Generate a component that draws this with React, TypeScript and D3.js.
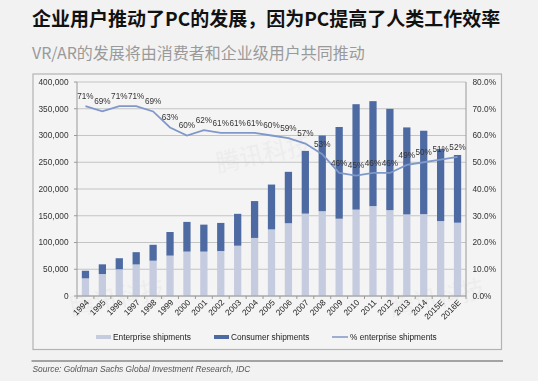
import React from "react";
import * as d3 from "d3";

const categories = ["1994","1995","1996","1997","1998","1999","2000","2001","2002","2003","2004","2005","2006","2007","2008","2009","2010","2011","2012","2013","2014","2015E","2016E"];
const enterprise = [33000, 41000, 50000, 59000, 66000, 75500, 83000, 83000, 84000, 94000, 108500, 124500, 136000, 154000, 158500, 144500, 161500, 168000, 160500, 152500, 153000, 140000, 137000];
const consumer = [14200, 18200, 20600, 22900, 29700, 44100, 55500, 50400, 52600, 59600, 68900, 83800, 96100, 117200, 141500, 171400, 197000, 196200, 189300, 162600, 155900, 135000, 126600];
const pctEnterprise = [71, 69, 71, 71, 69, 63, 60, 62, 61, 61, 61, 60, 59, 57, 53, 46, 45, 46, 46, 49, 50, 51, 52];
const leftTicks = [0, 50000, 100000, 150000, 200000, 250000, 300000, 350000, 400000];
const rightTicks = [0, 0.1, 0.2, 0.3, 0.4, 0.5, 0.6, 0.7, 0.8];
const legendLabels = ["Enterprise shipments", "Consumer shipments", "% enterprise shipments"];
const title = "企业用户推动了PC的发展，因为PC提高了人类工作效率";
const subtitle = "VR/AR的发展将由消费者和企业级用户共同推动";
const source = "Source: Goldman Sachs Global Investment Research, IDC";

const W = 538, H = 381;
const PL = 77, PR = 466, PT = 82, PB = 296;
const C_ENT = "#c6cce0";
const C_CON = "#4e6aa3";
const C_LINE = "#7f98c9";
const FONT = "'Liberation Sans', Arial, sans-serif";
const CJK = "'Noto Sans CJK SC', sans-serif";

export default function App() {
  const x = d3.scaleBand<string>().domain(categories).range([PL, PR]).paddingInner(0.57).paddingOuter(0.285);
  const y = d3.scaleLinear().domain([0, 400000]).range([PB, PT]);
  const y2 = d3.scaleLinear().domain([0, 0.8]).range([PB, PT]);
  const fmt = d3.format(",");
  const pfmt = d3.format(".1%");
  const bw = x.bandwidth();
  const cx = (c: string) => (x(c) as number) + bw / 2;
  const line = d3.line<number>().x((_, i) => cx(categories[i])).y((d) => y2(d / 100));
  const step = x.step();

  return (
    <svg width={W} height={H} style={{ position: "absolute", left: 0, top: 0, background: "#f2f2f2" }}>
      <rect x={0} y={0} width={W} height={H} fill="#f2f2f2" />
      <text x={32} y={26} fontFamily={CJK} fontSize={19} fontWeight="bold" fill="#111">{title}</text>
      <text x={32} y={59} fontFamily={CJK} fontSize={16} fill="#9a9a9a">{subtitle}</text>
      {/* box */}
      <rect x={33} y={74} width={468.5} height={275.5} fill="#f4f4f4" stroke="#b3b3b3" strokeWidth={1.2} />
      {/* watermarks */}
      <g fontFamily={CJK} fontSize={24} fill="#9a9a9a" opacity={0.08}>
        <text x={218} y={172} transform="rotate(-12 218 172)">腾讯科技</text>
        <text x={72} y={316} transform="rotate(-12 72 316)">腾讯科技</text>
        <text x={392} y={316} transform="rotate(-12 392 316)">腾讯科技</text>
      </g>
      {/* gridlines */}
      {leftTicks.map((t) => (
        <line key={t} x1={PL} x2={PR} y1={y(t)} y2={y(t)} stroke="#c4c4c4" strokeWidth={1} />
      ))}
      {/* bars */}
      {categories.map((c, i) => (
        <g key={c}>
          <rect x={x(c)} y={y(enterprise[i])} width={bw} height={PB - y(enterprise[i])} fill={C_ENT} />
          <rect x={x(c)} y={y(enterprise[i] + consumer[i])} width={bw} height={y(enterprise[i]) - y(enterprise[i] + consumer[i])} fill={C_CON} />
        </g>
      ))}
      {/* axes */}
      <line x1={PL} x2={PL} y1={PT} y2={PB} stroke="#9a9a9a" />
      <line x1={PR} x2={PR} y1={PT} y2={PB} stroke="#9a9a9a" />
      <line x1={PL} x2={PR} y1={PB} y2={PB} stroke="#9a9a9a" />
      {leftTicks.map((t) => (
        <g key={"l" + t}>
          <line x1={PL - 3} x2={PL} y1={y(t)} y2={y(t)} stroke="#9a9a9a" />
          <text x={68.5} y={y(t)} dy="0.35em" textAnchor="end" fontFamily={FONT} fontSize={8.3} fill="#333">{fmt(t)}</text>
        </g>
      ))}
      {rightTicks.map((t) => (
        <g key={"r" + t}>
          <text x={472.5} y={y2(t)} dy="0.35em" fontFamily={FONT} fontSize={8.3} fill="#333">{pfmt(t)}</text>
        </g>
      ))}
      {categories.map((c, i) => (
        <line key={"t" + c} x1={PL + step * i} x2={PL + step * i} y1={PB} y2={PB + 3} stroke="#9a9a9a" />
      ))}
      <line x1={PR} x2={PR} y1={PB} y2={PB + 3} stroke="#9a9a9a" />
      {categories.map((c) => (
        <text key={"x" + c} transform={`translate(${cx(c) + 4},${PB + 7}) rotate(-45)`} textAnchor="end" fontFamily={FONT} fontSize={8.3} fill="#222">{c}</text>
      ))}
      {/* line */}
      <path d={line(pctEnterprise) || ""} fill="none" stroke={C_LINE} strokeWidth={1.8} />
      {pctEnterprise.map((p, i) => (
        <text key={"p" + i} x={cx(categories[i])} y={y2(p / 100) - 10} dy="0.35em" textAnchor="middle" fontFamily={FONT} fontSize={8.2} fill="#333">{p + "%"}</text>
      ))}
      {/* legend */}
      <rect x={96} y={335} width={15} height={4} fill={C_ENT} />
      <text x={113} y={337} dy="0.35em" fontFamily={FONT} fontSize={8.3} fill="#222">{legendLabels[0]}</text>
      <rect x={214} y={335} width={15} height={4} fill={C_CON} />
      <text x={231} y={337} dy="0.35em" fontFamily={FONT} fontSize={8.3} fill="#222">{legendLabels[1]}</text>
      <line x1={332} x2={348} y1={337} y2={337} stroke={C_LINE} strokeWidth={1.5} />
      <text x={350} y={337} dy="0.35em" fontFamily={FONT} fontSize={8.3} fill="#222">{legendLabels[2]}</text>
      {/* source */}
      <line x1={31.5} x2={503} y1={361} y2={361} stroke="#555" strokeWidth={1} />
      <text x={32.5} y={372} fontFamily={FONT} fontSize={8.4} fontStyle="italic" fill="#555">{source}</text>
    </svg>
  );
}
